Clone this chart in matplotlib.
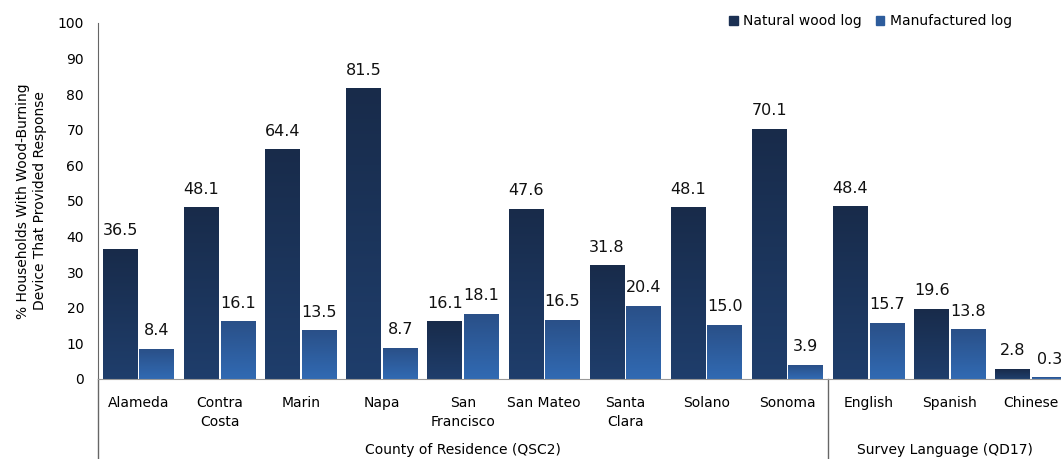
import numpy as np
import matplotlib
matplotlib.use('Agg')
import matplotlib.pyplot as plt
from matplotlib.colors import LinearSegmentedColormap
from matplotlib.patches import Patch

categories = ['Alameda', 'Contra\nCosta', 'Marin', 'Napa', 'San\nFrancisco', 'San Mateo',
              'Santa\nClara', 'Solano', 'Sonoma', 'English', 'Spanish', 'Chinese']
natural = [36.5, 48.1, 64.4, 81.5, 16.1, 47.6, 31.8, 48.1, 70.1, 48.4, 19.6, 2.8]
manufactured = [8.4, 16.1, 13.5, 8.7, 18.1, 16.5, 20.4, 15.0, 3.9, 15.7, 13.8, 0.3]
groups = ['County of Residence (QSC2)', 'Survey Language (QD17)']
group_sizes = [9, 3]

plt.rcParams['font.family'] = 'DejaVu Sans'

fig = plt.figure(figsize=(10.61, 4.59), dpi=100)
ax = fig.add_axes([98/1061, 80/459, 1 - 98/1061, 356/459])

x = np.arange(len(categories))
w = 0.43
off = 0.225

# top -> bottom gradients
cmap_nat = LinearSegmentedColormap.from_list('nat', ['#182b4a', '#1f3e6c'])
cmap_man = LinearSegmentedColormap.from_list('man', ['#2a5088', '#316ab3'])
grad = np.linspace(0, 1, 256).reshape(-1, 1)

b1 = ax.bar(x - off, natural, w, color='none', label='Natural wood log')
b2 = ax.bar(x + off, manufactured, w, color='none', label='Manufactured log')

for bars, cm in [(b1, cmap_nat), (b2, cmap_man)]:
    for b in bars:
        bx, bw, bh = b.get_x(), b.get_width(), b.get_height()
        ax.imshow(grad, extent=[bx, bx + bw, 0, bh], aspect='auto', cmap=cm,
                  origin='upper', zorder=2)
        ax.annotate(f'{bh:.1f}', (bx + bw / 2, bh), xytext=(0, 8),
                    textcoords='offset points', ha='center', va='bottom',
                    fontsize=11.5, color='#111111')

ax.set_xlim(-0.5, 11.37)
ax.set_ylim(0, 100)
ax.set_yticks(range(0, 101, 10))
ax.tick_params(axis='y', length=0, labelsize=10, pad=10)
ax.set_xticks(x)
ax.set_xticklabels(categories, fontsize=10, linespacing=1.5)
ax.tick_params(axis='x', length=0, pad=12)
for s in ['top', 'right']:
    ax.spines[s].set_visible(False)
ax.spines['left'].set_color('#666666')
ax.spines['bottom'].set_color('#999999')

ax.set_ylabel('% Households With Wood-Burning\nDevice That Provided Response',
              fontsize=10, labelpad=8)

# extend left spine and draw separator below the axis
ax.plot([-0.5, -0.5], [0, -22.6], color='#666666', lw=1, clip_on=False)
ax.plot([8.5, 8.5], [0, -22.6], color='#666666', lw=1, clip_on=False)

start = -0.5
for g, n in zip(groups, group_sizes):
    end = min(start + n, 11.37)
    ax.text((start + end) / 2, -20, g, ha='center', va='center', fontsize=10)
    start += n

handles = [Patch(color='#1b3053', label='Natural wood log'),
           Patch(color='#2d5c9c', label='Manufactured log')]
ax.legend(handles=handles, loc='upper right', bbox_to_anchor=(0.962, 1.06), ncol=2,
          frameon=False, fontsize=10, handlelength=0.6, handleheight=0.6,
          handletextpad=0.4, columnspacing=1.0)

plt.savefig('out.png', dpi=100)
